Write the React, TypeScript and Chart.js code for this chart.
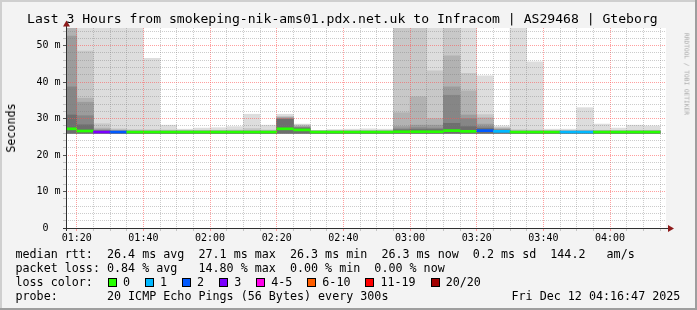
import React, { useEffect, useRef } from "react";
import { Chart, registerables } from "chart.js";

Chart.register(...registerables);

const MONO = "'DejaVu Sans Mono', monospace";

const chartTitle = "Last 3 Hours from smokeping-nik-ams01.pdx.net.uk to Infracom | AS29468 | Gteborg";
const yAxisTitle = "Seconds";
const watermark = "RRDTOOL / TOBI OETIKER";

const rangeStart = "01:16:47";
const rangeEnd = "04:16:47";

// 5-minute consolidation slots (start time of each slot)
const slotStarts = [
  "01:15", "01:20", "01:25", "01:30", "01:35", "01:40", "01:45", "01:50", "01:55",
  "02:00", "02:05", "02:10", "02:15", "02:20", "02:25", "02:30", "02:35", "02:40",
  "02:45", "02:50", "02:55", "03:00", "03:05", "03:10", "03:15", "03:20", "03:25",
  "03:30", "03:35", "03:40", "03:45", "03:50", "03:55", "04:00", "04:05", "04:10",
];

// median rtt (ms)
const medianRtt = [
  27.2, 26.6, 26.3, 26.3, 26.3, 26.3, 26.3, 26.3, 26.3,
  26.3, 26.3, 26.3, 26.3, 27.2, 26.9, 26.3, 26.3, 26.3,
  26.3, 26.3, 26.4, 26.4, 26.4, 26.7, 26.5, 26.7, 26.5,
  26.3, 26.3, 26.3, 26.3, 26.3, 26.3, 26.3, 26.3, 26.3,
];

// lost pings out of 20 per slot
const lostPings = [
  0, 0, 3, 2, 0, 0, 0, 0, 0,
  0, 0, 0, 0, 0, 0, 0, 0, 0,
  0, 0, 0, 0, 0, 0, 0, 2, 1,
  0, 0, 0, 1, 1, 0, 0, 0, 0,
];

// fastest ping (ms) - bottom of the smoke
const pingMin = [
  26.0, 26.0, 26.0, 26.0, 26.0, 26.0, 26.0, 26.0, 26.0,
  26.0, 26.0, 26.0, 26.0, 26.0, 26.0, 26.0, 26.0, 26.0,
  26.0, 26.0, 26.0, 26.0, 26.0, 26.0, 26.0, 26.0, 26.0,
  26.0, 26.0, 26.0, 26.0, 26.0, 26.0, 26.0, 26.0, 26.0,
];

// smoke band tops (ms), outermost (slowest pings) first
const smokeBand1 = [
  99, 99, 99, 99, 99, 46.5, 28.2, 27.1, 27.4,
  27.5, 27.8, 31.2, 28.2, 31.2, 28.5, 26.8, 27.0, 27.1,
  27.2, 27.1, 99, 99, 80, 99, 80, 41.7, 28.0,
  99, 45.6, 27.1, 27.1, 33.0, 28.5, 27.4, 28.2, 28.0,
];
const smokeBand2 = [
  90, 48.5, 28.6, 27.2, 27.0, 27.0, 26.9, 26.8, 26.8,
  26.8, 26.9, 27.3, 26.9, 30.6, 28.3, 26.7, 26.7, 26.7,
  26.7, 26.7, 80, 80, 43.1, 80, 42.4, 31.1, 27.6,
  27.0, 26.9, 26.7, 26.7, 26.9, 26.8, 26.7, 26.8, 26.8,
];
const smokeBand3 = [
  80, 35.6, 27.4, 26.9, 26.8, 26.7, 26.7, 26.7, 26.7,
  26.7, 26.7, 26.8, 26.7, 30.4, 28.0, 26.6, 26.6, 26.6,
  26.6, 26.6, 31.6, 36.0, 30.0, 47.2, 37.6, 30.2, 27.3,
  26.7, 26.7, 26.6, 26.6, 26.7, 26.7, 26.6, 26.7, 26.7,
];
const smokeBand4 = [
  52.6, 34.5, 27.0, 26.7, 26.6, 26.6, 26.6, 26.6, 26.6,
  26.6, 26.6, 26.6, 26.6, 30.2, 27.8, 26.6, 26.6, 26.6,
  26.6, 26.6, 27.8, 28.2, 28.2, 38.7, 31.0, 28.5, 27.1,
  26.6, 26.6, 26.6, 26.6, 26.6, 26.6, 26.6, 26.6, 26.6,
];
const smokeBand5 = [
  38.7, 30.8, 26.8, 26.6, 26.5, 26.5, 26.5, 26.5, 26.5,
  26.5, 26.5, 26.5, 26.5, 30.0, 27.6, 26.5, 26.5, 26.5,
  26.5, 26.5, 27.2, 27.5, 27.4, 36.4, 30.0, 27.8, 26.9,
  26.5, 26.5, 26.5, 26.5, 26.5, 26.5, 26.5, 26.5, 26.5,
];
const smokeBand6 = [
  31.0, 28.3, 26.6, 26.5, 26.5, 26.5, 26.5, 26.5, 26.5,
  26.5, 26.5, 26.5, 26.5, 29.8, 27.4, 26.5, 26.5, 26.5,
  26.5, 26.5, 26.9, 27.0, 27.0, 28.7, 27.8, 27.3, 26.8,
  26.5, 26.5, 26.5, 26.5, 26.5, 26.5, 26.5, 26.5, 26.5,
];

const xTickLabels = ["01:20", "01:40", "02:00", "02:20", "02:40", "03:00", "03:20", "03:40", "04:00"];
const yTickValues = [0, 10, 20, 30, 40, 50];
const yTickLabels = ["0", "10 m", "20 m", "30 m", "40 m", "50 m"];
const yMax = 54.85;

const lossLabels = ["0", "1", "2", "3", "4-5", "6-10", "11-19", "20/20"];
const lossUpper = [0, 1, 2, 3, 5, 10, 19, 20];
const lossColors = ["#26ff00", "#00b8ff", "#0059ff", "#7a00ff", "#ff00ea", "#ff5e00", "#ff0000", "#a10000"];

const rttStats = ["26.4 ms avg", "27.1 ms max", "26.3 ms min", "26.3 ms now", "0.2 ms sd", "144.2   am/s"];
const lossStats = ["0.84 % avg ", "14.80 % max", "0.00 % min", "0.00 % now"];
const probeText = "20 ICMP Echo Pings (56 Bytes) every 300s";
const stampText = "Fri Dec 12 04:16:47 2025";

const bandColors = ["#dddddd", "#c8c8c8", "#b2b2b2", "#9c9c9c", "#868686", "#6e6e6e"];
const MAJOR_GRID = "rgba(255,80,80,0.55)";
const MINOR_GRID = "rgba(120,120,120,0.38)";

const toMinutes = (t: string) => {
  const [h, m, s = "0"] = t.split(":");
  return Number(h) * 60 + Number(m) + Number(s) / 60;
};

const lossColor = (n: number) => {
  const i = lossUpper.findIndex((u) => n <= u);
  return lossColors[i < 0 ? lossColors.length - 1 : i];
};

const framePlugin = {
  id: "rrdFrame",
  beforeDraw(chart: any) {
    const { ctx, width, height, chartArea: a } = chart;
    ctx.save();
    ctx.fillStyle = "#f3f3f3";
    ctx.fillRect(0, 0, width, height);
    ctx.fillStyle = "#cfcfcf";
    ctx.fillRect(0, 0, width, 2);
    ctx.fillRect(0, 0, 2, height);
    ctx.fillStyle = "#9e9e9e";
    ctx.fillRect(0, height - 2, width, 2);
    ctx.fillRect(width - 2, 0, 2, height);
    ctx.fillStyle = "#ffffff";
    ctx.fillRect(a.left, a.top, a.right - a.left, a.bottom - a.top);
    ctx.restore();
  },
  afterDraw(chart: any) {
    const { ctx, chartArea: a } = chart;
    ctx.save();
    ctx.strokeStyle = "#303030";
    ctx.lineWidth = 1;
    ctx.beginPath();
    ctx.moveTo(a.left - 3, a.bottom + 0.5);
    ctx.lineTo(a.right + 3, a.bottom + 0.5);
    ctx.moveTo(a.left + 0.5, a.bottom + 3);
    ctx.lineTo(a.left + 0.5, a.top - 3);
    ctx.stroke();
    ctx.fillStyle = "#8e1b1b";
    ctx.beginPath();
    ctx.moveTo(a.left + 0.5, a.top - 7.5);
    ctx.lineTo(a.left - 3, a.top - 1.5);
    ctx.lineTo(a.left + 4, a.top - 1.5);
    ctx.closePath();
    ctx.fill();
    ctx.beginPath();
    ctx.moveTo(a.right + 8, a.bottom + 0.5);
    ctx.lineTo(a.right + 2, a.bottom - 3);
    ctx.lineTo(a.right + 2, a.bottom + 4);
    ctx.closePath();
    ctx.fill();
    ctx.restore();
  },
};

const textBase: React.CSSProperties = {
  position: "absolute",
  fontFamily: MONO,
  whiteSpace: "pre",
  lineHeight: "normal",
  color: "#000",
};

export default function App() {
  const ref = useRef<HTMLCanvasElement>(null);

  useEffect(() => {
    document.body.style.margin = "0";
    const x0 = toMinutes(rangeStart);
    const x1 = toMinutes(rangeEnd);
    const centers = slotStarts.map((s) => toMinutes(s) + 2.5);
    const xLabelAt = new Map(xTickLabels.map((l) => [toMinutes(l), l]));
    const yLabelAt = new Map(yTickValues.map((v, i) => [v, yTickLabels[i]]));

    const xGrid: number[] = [];
    for (let v = Math.ceil(x0 / 5) * 5; v <= x1; v += 5) xGrid.push(v);
    const yGrid: number[] = [];
    for (let v = 0; v <= yMax; v += 2) yGrid.push(v);

    const bands = [smokeBand6, smokeBand5, smokeBand4, smokeBand3, smokeBand2, smokeBand1];
    const bandCols = [...bandColors].reverse();
    const medHalf = 0.28;

    const barCommon = {
      type: "bar" as const,
      grouped: false,
      barPercentage: 1,
      categoryPercentage: 1,
      borderWidth: 0,
    };

    const datasets: any[] = [
      {
        ...barCommon,
        label: "median",
        data: centers.map((x, i) => ({ x, y: [medianRtt[i] - medHalf, medianRtt[i] + medHalf] })),
        backgroundColor: lostPings.map((n) => lossColor(n)),
      },
      ...bands.map((band, k) => ({
        ...barCommon,
        label: `smoke${6 - k}`,
        data: centers.map((x, i) => ({ x, y: [pingMin[i], band[i]] })),
        backgroundColor: bandCols[k],
      })),
    ];

    const chart = new Chart(ref.current!, {
      type: "bar",
      data: { datasets },
      options: {
        responsive: false,
        animation: false,
        devicePixelRatio: 1,
        events: [],
        layout: { padding: { top: 28, right: 31, left: 0, bottom: 0 } },
        plugins: { legend: { display: false }, tooltip: { enabled: false }, title: { display: false } },
        scales: {
          x: {
            type: "linear",
            min: x0,
            max: x1,
            offset: false,
            afterFit: (s: any) => {
              s.height = 82;
            },
            afterBuildTicks: (s: any) => {
              s.ticks = xGrid.map((v) => ({ value: v }));
            },
            ticks: {
              autoSkip: false,
              maxRotation: 0,
              minRotation: 0,
              padding: 1.2,
              color: "#000",
              font: { family: MONO, size: 10 },
              callback: (v: any) => xLabelAt.get(Number(v)) ?? "",
            },
            grid: {
              offset: false,
              z: 1,
              lineWidth: 1,
              tickLength: 3,
              color: (c: any) => (c.tick && c.tick.value % 20 === 0 ? MAJOR_GRID : MINOR_GRID),
              tickColor: (c: any) => (c.tick && c.tick.value % 20 === 0 ? MAJOR_GRID : MINOR_GRID),
            },
            border: { display: false, dash: [1, 1] },
          },
          y: {
            type: "linear",
            min: 0,
            max: yMax,
            afterFit: (s: any) => {
              s.width = 66;
            },
            afterBuildTicks: (s: any) => {
              s.ticks = yGrid.map((v) => ({ value: v }));
            },
            ticks: {
              autoSkip: false,
              padding: 2.5,
              color: "#000",
              font: { family: MONO, size: 10 },
              callback: (v: any) => {
                const l = yLabelAt.get(Number(v));
                if (l === undefined) return "";
                return l.length < 3 ? l + "  " : l;
              },
            },
            grid: {
              z: 1,
              lineWidth: 1,
              tickLength: 3,
              color: (c: any) =>
                c.tick && c.tick.value === 0 ? "rgba(0,0,0,0)" : c.tick && c.tick.value % 10 === 0 ? MAJOR_GRID : MINOR_GRID,
              tickColor: (c: any) => (c.tick && c.tick.value % 10 === 0 ? "#555555" : MINOR_GRID),
            },
            border: { display: false, dash: [1, 1] },
          },
        },
      } as any,
      plugins: [framePlugin],
    });
    return () => chart.destroy();
  }, []);

  const legendFont = "11.7px";
  const rttLine = "median rtt:  " + rttStats.join("  ");
  const lossLine = "packet loss: " + lossStats.join("  ");
  const probeLine = "probe:       " + probeText;

  return (
    <div style={{ position: "relative", width: 697, height: 310, overflow: "hidden" }}>
      <canvas ref={ref} width={697} height={310} style={{ position: "absolute", left: 0, top: 0 }} />
      <div style={{ ...textBase, left: 27, top: 11, fontSize: "13.1px" }}>{chartTitle}</div>
      <div
        style={{
          ...textBase,
          left: 11.25,
          top: 127.5,
          fontSize: legendFont,
          transform: "translate(-50%, -50%) rotate(-90deg)",
        }}
      >
        {yAxisTitle}
      </div>
      <div
        style={{
          ...textBase,
          left: 686.5,
          top: 74,
          fontSize: "6.2px",
          color: "#a8a8a8",
          transform: "translate(-50%, -50%) rotate(90deg)",
        }}
      >
        {watermark}
      </div>
      <div style={{ ...textBase, left: 15.5, top: 247.1, fontSize: legendFont }}>{rttLine}</div>
      <div style={{ ...textBase, left: 15.5, top: 261.1, fontSize: legendFont }}>{lossLine}</div>
      <div style={{ ...textBase, left: 15.5, top: 275.1, fontSize: legendFont }}>{"loss color:"}</div>
      <div
        style={{
          ...textBase,
          left: 108,
          top: 275.1,
          fontSize: legendFont,
          display: "flex",
          alignItems: "baseline",
        }}
      >
        {lossLabels.map((l, i) => (
          <React.Fragment key={l}>
            <span
              style={{
                display: "inline-block",
                width: 9,
                height: 9,
                boxSizing: "border-box",
                border: "1px solid #000",
                background: lossColors[i],
                marginRight: 6,
                position: "relative",
                top: 1,
              }}
            />
            <span style={{ marginRight: 15 }}>{l}</span>
          </React.Fragment>
        ))}
      </div>
      <div style={{ ...textBase, left: 15.5, top: 289.1, fontSize: legendFont }}>{probeLine}</div>
      <div style={{ ...textBase, left: 511.5, top: 289.1, fontSize: legendFont }}>{stampText}</div>
    </div>
  );
}
